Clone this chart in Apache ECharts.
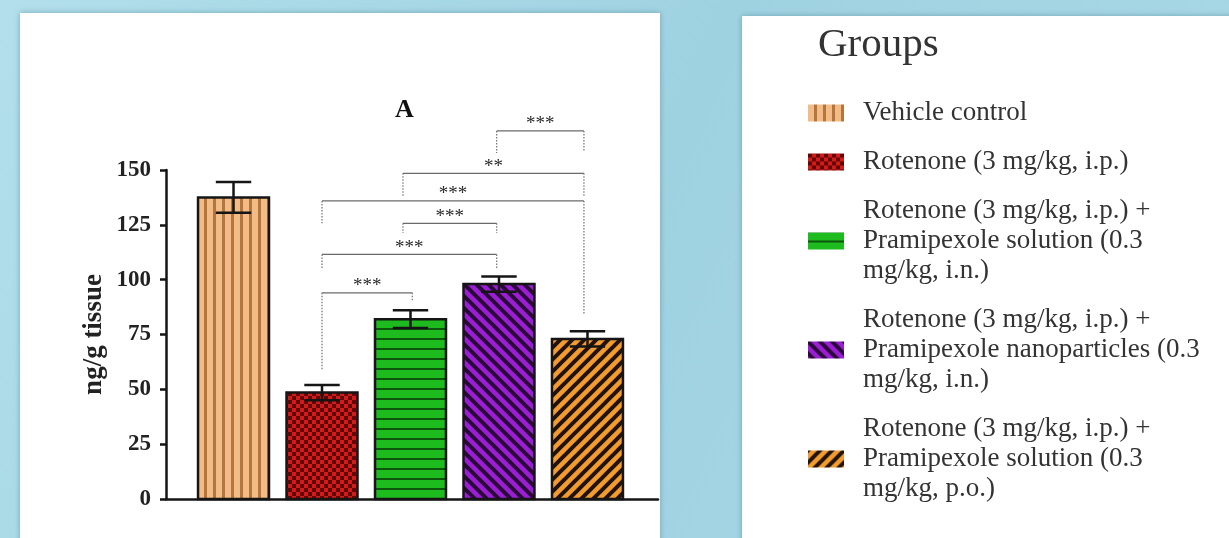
<!DOCTYPE html>
<html><head><meta charset="utf-8">
<script src="https://cdn.jsdelivr.net/npm/echarts@6/dist/echarts.min.js"></script>
<style>html,body{margin:0;padding:0;background:#a5d5e3}#c{width:1229px;height:538px}</style>
</head><body><div id="c"></div>
<script>
// ---- data ----
const groups = [
  'Vehicle control',
  'Rotenone (3 mg/kg, i.p.)',
  'Rotenone (3 mg/kg, i.p.) +\nPramipexole solution (0.3\nmg/kg, i.n.)',
  'Rotenone (3 mg/kg, i.p.) +\nPramipexole nanoparticles (0.3\nmg/kg, i.n.)',
  'Rotenone (3 mg/kg, i.p.) +\nPramipexole solution (0.3\nmg/kg, p.o.)'
];
const values = [137.5, 48.5, 82, 98, 73];
const errors = [7, 3.5, 4, 3.5, 3.5];
const yTicks = [0, 25, 50, 75, 100, 125, 150];
// significance brackets (x in group index units, y in ng/g)
const bracketFrom  = [1.0, 1.0, 1.915, 1.0, 1.915, 2.974];
const bracketTo    = [2.02, 2.974, 2.974, 3.96, 3.96, 3.96];
const bracketLevel = [94, 111.5, 125.7, 135.9, 148.5, 167.8];
const legFromEnd   = [59, 105.3, 121.3, 125.7, 137.9, 157.7];
const legToEnd     = [90, 105.3, 121.3, 84, 137.9, 158.5];
const bracketLabel = ['***', '***', '***', '***', '**', '***'];

// ---- patterns ----
function mk(w, h, draw) {
  const c = document.createElement('canvas'); c.width = w; c.height = h;
  const g = c.getContext('2d'); draw(g, w, h);
  return { image: c, repeat: 'repeat' };
}
const patterns = [
  mk(9, 9, (g) => { g.fillStyle = '#F1BC87'; g.fillRect(0,0,9,9); g.fillStyle = '#B5763D'; g.fillRect(6,0,3,9); }),
  mk(8, 8, (g) => { g.fillStyle = '#D21B1B'; g.fillRect(0,0,8,8); g.fillStyle = '#650404'; g.fillRect(0,0,4,4); g.fillRect(4,4,4,4); }),
  mk(10, 10, (g) => { g.fillStyle = '#1EBB1E'; g.fillRect(0,0,10,10); g.fillStyle = '#0B560B'; g.fillRect(0,8,10,2); }),
  mk(12, 12, (g) => { g.fillStyle = '#9B1ED5'; g.fillRect(0,0,12,12); g.strokeStyle = '#2A0838'; g.lineWidth = 4;
      [-12,0,12].forEach(k => { g.beginPath(); g.moveTo(-2, -2 + k); g.lineTo(14, 14 + k); g.stroke(); }); }),
  mk(12, 12, (g) => { g.fillStyle = '#F29B2E'; g.fillRect(0,0,12,12); g.strokeStyle = '#22130A'; g.lineWidth = 4;
      [0,12,24].forEach(k => { g.beginPath(); g.moveTo(-2, k + 2); g.lineTo(14, k - 14); g.stroke(); }); })
];

const FONT = 'Liberation Serif';
const chart = echarts.init(document.getElementById('c'));

const barSeries = groups.map((name, i) => ({
  type: 'custom', name: name,
  itemStyle: { color: patterns[i] },
  encode: { x: 0, y: 1 },
  data: [[i, values[i], errors[i]]],
  z: 3,
  renderItem: function (params, api) {
    const x = api.value(0), v = api.value(1), e = api.value(2);
    const top = api.coord([x, v]), base = api.coord([x, 0]);
    const hi = api.coord([x, v + e]), lo = api.coord([x, v - e]);
    const w = api.size([0.802, 0])[0], cw = api.size([0.4, 0])[0];
    const es = { stroke: '#151515', lineWidth: 2.5 };
    return { type: 'group', children: [
      { type: 'rect', shape: { x: top[0] - w / 2, y: top[1], width: w, height: base[1] - top[1] },
        style: { fill: patterns[i], stroke: '#151515', lineWidth: 2.5 } },
      { type: 'line', shape: { x1: top[0], y1: hi[1], x2: top[0], y2: lo[1] }, style: es },
      { type: 'line', shape: { x1: top[0] - cw / 2, y1: hi[1], x2: top[0] + cw / 2, y2: hi[1] }, style: es },
      { type: 'line', shape: { x1: top[0] - cw / 2, y1: lo[1], x2: top[0] + cw / 2, y2: lo[1] }, style: es }
    ]};
  }
}));

const bracketSeries = {
  type: 'custom', name: 'brackets', silent: true, clip: false, z: 4,
  data: bracketLevel.map((y, k) => [bracketFrom[k], bracketTo[k], y, legFromEnd[k], legToEnd[k], k]),
  encode: { x: [0, 1], y: 2 },
  renderItem: function (params, api) {
    const x1 = api.value(0), x2 = api.value(1), y = api.value(2), l1 = api.value(3), l2 = api.value(4), k = api.value(5);
    const a = api.coord([x1, y]), b = api.coord([x2, y]);
    const a2 = api.coord([x1, l1]), b2 = api.coord([x2, l2]);
    const dash = { stroke: '#707070', lineWidth: 1.2, lineDash: [1.5, 1.5] };
    return { type: 'group', children: [
      { type: 'line', shape: { x1: a[0], y1: a[1], x2: b[0], y2: b[1] }, style: { stroke: '#6a6a6a', lineWidth: 1.2 } },
      { type: 'line', shape: { x1: a[0], y1: a[1], x2: a2[0], y2: a2[1] }, style: dash },
      { type: 'line', shape: { x1: b[0], y1: b[1], x2: b2[0], y2: b2[1] }, style: dash },
      { type: 'text', style: { text: bracketLabel[k], x: (a[0] + b[0]) / 2, y: a[1] + 3,
          textAlign: 'center', textVerticalAlign: 'bottom', fontFamily: FONT, fontSize: 19, fill: '#2a2a2a' } }
    ]};
  }
};

chart.setOption({
  animation: false,
  graphic: [
    { type: 'rect', z: -10, shape: { x: 0, y: 0, width: 1229, height: 538 },
      style: { fill: new echarts.graphic.LinearGradient(0, 0, 1, 1, [
        { offset: 0, color: '#b2dfeb' }, { offset: 0.5, color: '#9fd2e1' }, { offset: 1, color: '#a9d9e6' }]) } },
    { type: 'rect', z: -9, shape: { x: 20, y: 13, width: 640, height: 530 },
      style: { fill: '#ffffff', shadowBlur: 6, shadowColor: 'rgba(60,110,130,0.5)' } },
    { type: 'rect', z: -9, shape: { x: 742, y: 16, width: 500, height: 530 },
      style: { fill: '#ffffff', shadowBlur: 6, shadowColor: 'rgba(60,110,130,0.5)' } }
  ],
  title: [
    { text: 'A', left: 395, top: 97, padding: 0,
      textStyle: { fontFamily: FONT, fontSize: 26, fontWeight: 'bold', color: '#111' } },
    { text: 'Groups', left: 818, top: 25, padding: 0,
      textStyle: { fontFamily: FONT, fontSize: 41, fontWeight: 'normal', color: '#333' } }
  ],
  legend: {
    orient: 'vertical', left: 808, top: 98, padding: 0, icon: 'rect', itemWidth: 36, itemHeight: 17, itemGap: 19,
    selectedMode: false, data: groups,
    itemStyle: { borderWidth: 0 },
    textStyle: { fontFamily: FONT, fontSize: 27, lineHeight: 30, color: '#333', padding: [0, 0, 0, 14] }
  },
  grid: { left: 166, right: 571, top: 170, bottom: 39, containLabel: false },
  xAxis: {
    type: 'value', min: -0.763, max: 4.797,
    axisLine: { show: true, onZero: false, lineStyle: { color: '#151515', width: 2.5 } },
    axisTick: { show: false }, axisLabel: { show: false }, splitLine: { show: false }
  },
  yAxis: {
    type: 'value', min: yTicks[0], max: yTicks[yTicks.length - 1], interval: 25,
    name: 'ng/g tissue', nameLocation: 'middle', nameGap: 58,
    nameTextStyle: { fontFamily: FONT, fontSize: 27, fontWeight: 'bold', color: '#222' },
    axisLine: { show: true, onZero: false, lineStyle: { color: '#151515', width: 2.5 } },
    axisTick: { show: true, length: 6, lineStyle: { color: '#151515', width: 2.5 } },
    axisLabel: { fontFamily: FONT, fontSize: 23, fontWeight: 'bold', color: '#222', margin: 15 },
    splitLine: { show: false }
  },
  series: barSeries.concat([bracketSeries])
});
</script></body></html>
